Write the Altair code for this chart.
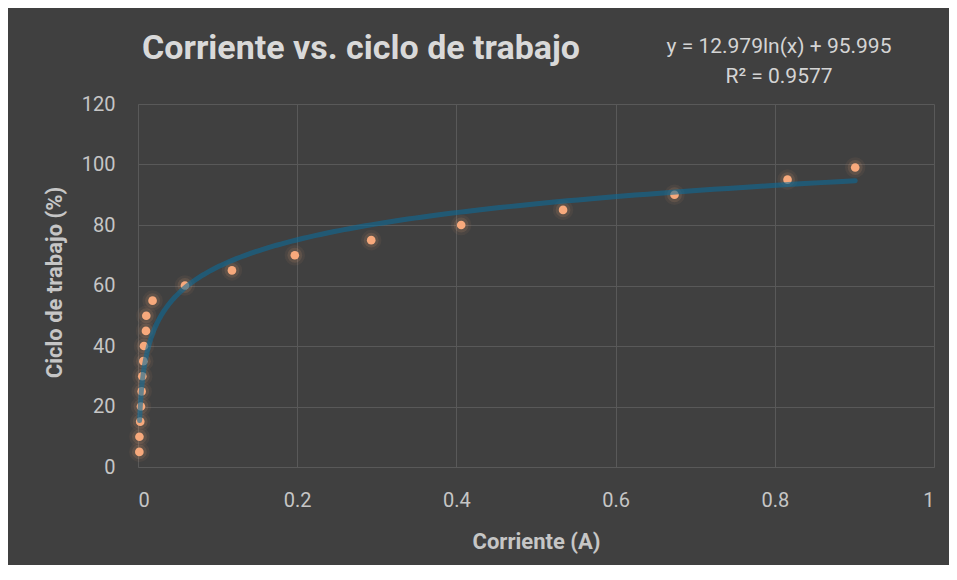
import altair as alt
import pandas as pd

# Data
corriente = [0.0017, 0.0018, 0.0028, 0.0037, 0.0046, 0.0054, 0.0067, 0.0075, 0.0100, 0.0104,
             0.0183, 0.059, 0.118, 0.197, 0.293, 0.406, 0.534, 0.674, 0.816, 0.901]
ciclo = [5, 10, 15, 20, 25, 30, 35, 40, 45, 50, 55, 60, 65, 70, 75, 80, 85, 90, 95, 99]

# Trendline coefficients as printed on the chart
trend_slope = 12.979
trend_intercept = 95.995
trend_r2 = 0.9577
trend_start = 0.002

x_ticks = [0, 0.2, 0.4, 0.6, 0.8, 1]
y_ticks = [0, 20, 40, 60, 80, 100, 120]

title_text = "Corriente vs. ciclo de trabajo"
eq_line1 = f"y = {trend_slope}ln(x) + {trend_intercept}"
eq_line2 = f"R² = {trend_r2}"

df = pd.DataFrame({"Corriente": corriente, "Ciclo": ciclo})

BG = "#404040"
GRID = "#595959"
LABEL = "#c6c6c6"
ORANGE = "#f7a97c"
TEAL = "#0d6a98"
FONT = "Roboto"

x_enc = alt.X("Corriente:Q",
              scale=alt.Scale(domain=[0, 1], nice=False, zero=True),
              axis=alt.Axis(values=x_ticks, title="Corriente (A)",
                            labelExpr="format(datum.value, '~g')"))
y_enc = alt.Y("Ciclo:Q",
              scale=alt.Scale(domain=[0, 120], nice=False),
              axis=alt.Axis(values=y_ticks, title="Ciclo de trabajo (%)"))

base = alt.Chart(df)

glow2 = base.mark_circle(color=ORANGE, opacity=0.06, size=420).encode(x=x_enc, y=y_enc)
glow1 = base.mark_circle(color=ORANGE, opacity=0.12, size=220).encode(x=x_enc, y=y_enc)

xmax = max(corriente)
trend = alt.Chart(alt.sequence(0, 1.0001, 0.004, as_="t")).transform_calculate(
    Corriente=f"{trend_start} * pow({xmax} / {trend_start}, datum.t)"
).transform_calculate(
    Ciclo=f"{trend_slope} * log(datum.Corriente) + {trend_intercept}"
).mark_line(color=TEAL, strokeWidth=5, opacity=0.6, strokeCap="round").encode(
    x=x_enc, y=y_enc, order="t:Q")

points = base.mark_circle(color=ORANGE, opacity=1, size=75).encode(x=x_enc, y=y_enc)

ann = alt.Chart(alt.Data(values=[{}]))
title_mark = ann.mark_text(text=title_text, font=FONT, fontSize=34, fontWeight="bold",
                           color="#d9d9d9", align="left", baseline="alphabetic").encode(
    x=alt.value(4), y=alt.value(-45))
eq1 = ann.mark_text(text=eq_line1, font=FONT, fontSize=21, color="#d4d4d4",
                    align="center", baseline="alphabetic").encode(
    x=alt.value(641), y=alt.value(-51))
eq2 = ann.mark_text(text=eq_line2, font=FONT, fontSize=21, color="#d4d4d4",
                    align="center", baseline="alphabetic").encode(
    x=alt.value(641), y=alt.value(-21))

chart = alt.layer(glow2, glow1, points, trend, title_mark, eq1, eq2).properties(
    width=796,
    height=363,
    autosize=alt.AutoSizeParams(type="none"),
    padding={"left": 130, "top": 96, "right": 15, "bottom": 98},
    background=BG,
).configure_view(
    stroke=None
).configure_axis(
    grid=True,
    gridColor=GRID,
    gridWidth=1,
    domainColor=GRID,
    domainWidth=1,
    ticks=False,
    labelFont=FONT,
    labelFontSize=20,
    labelColor=LABEL,
    labelPadding=23,
    titleFont=FONT,
    titleFontSize=22,
    titleFontWeight="bold",
    titleColor=LABEL,
).configure_axisX(
    titleY=81,
    titleBaseline="alphabetic",
).configure_axisY(
    titleX=-77,
    titleY=178,
    titleBaseline="alphabetic",
    titleAngle=-90,
    titleAlign="center",
)

chart.save("out.html", embed_options={"renderer": "svg", "actions": False})
